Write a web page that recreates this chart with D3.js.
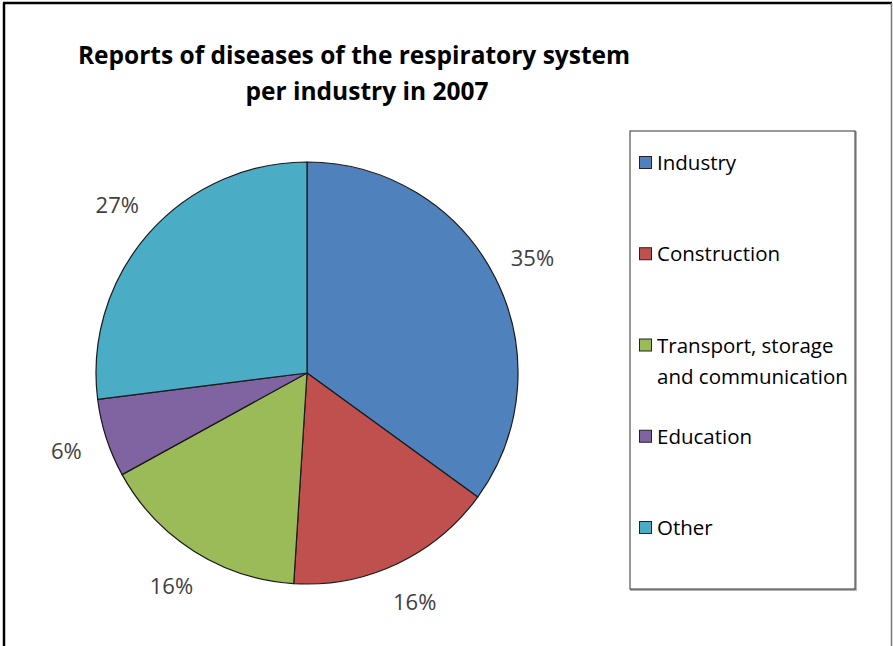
<!DOCTYPE html>
<html>
<head>
<meta charset="utf-8">
<script src="https://cdn.jsdelivr.net/npm/d3@7"></script>
<style>
    body { margin: 0; background: #fff; }
    svg { display: block; }
</style>
</head>
<body>
<div id="chart"></div>
<script>
const categories = ['Industry', 'Construction', 'Transport, storage and communication', 'Education', 'Other'];
const legendLines = [['Industry'], ['Construction'], ['Transport, storage', 'and communication'], ['Education'], ['Other']];
const values = [35, 16, 16, 6, 27];
const colors = ['#4F81BD', '#C0504D', '#9BBB59', '#8064A2', '#4BACC6'];
const titleLines = ['Reports of diseases of the respiratory system', 'per industry in 2007'];

const width = 893;
const height = 646;
const font = '"Open Sans", Lato, sans-serif';

const svg = d3.select('#chart')
    .append('svg')
    .attr('width', width)
    .attr('height', height);

// outer frame (bottom edge falls outside the picture)
svg.append('line').attr('x1', 4).attr('y1', 3).attr('x2', 4).attr('y2', height)
    .attr('stroke', '#000').attr('stroke-width', 2.5);
svg.append('line').attr('x1', 3).attr('y1', 3).attr('x2', 892).attr('y2', 3)
    .attr('stroke', '#000').attr('stroke-width', 2.5);
svg.append('line').attr('x1', 891.5).attr('y1', 3).attr('x2', 891.5).attr('y2', height)
    .attr('stroke', '#777').attr('stroke-width', 1.5);

// title
const titleX = [354, 367];
svg.append('g')
    .selectAll('text')
    .data(titleLines)
    .join('text')
    .attr('x', (d, i) => titleX[i])
    .attr('y', (d, i) => 64 + i * 36)
    .attr('text-anchor', 'middle')
    .attr('font-family', font)
    .attr('font-weight', 'bold')
    .attr('font-size', 24.5)
    .attr('fill', '#000')
    .text(d => d);

// pie
const cx = 307, cy = 373, radius = 211;
const pie = d3.pie().sort(null).value(d => d);
const arcs = pie(values);
const arc = d3.arc().innerRadius(0).outerRadius(radius);
const labelArc = d3.arc().innerRadius(253).outerRadius(253);

const pieGroup = svg.append('g').attr('transform', `translate(${cx},${cy})`);

pieGroup.selectAll('path')
    .data(arcs)
    .join('path')
    .attr('d', arc)
    .attr('fill', (d, i) => colors[i])
    .attr('stroke', '#1a1a1a')
    .attr('stroke-width', 1.2)
    .attr('stroke-linejoin', 'round');

pieGroup.selectAll('text')
    .data(arcs)
    .join('text')
    .attr('x', d => labelArc.centroid(d)[0])
    .attr('y', d => labelArc.centroid(d)[1])
    .attr('dy', '0.35em')
    .attr('text-anchor', 'middle')
    .attr('font-family', font)
    .attr('font-size', 22)
    .attr('fill', '#404040')
    .text(d => d.data + '%');

// legend
const legend = svg.append('g');
legend.append('rect')
    .attr('x', 631).attr('y', 132).attr('width', 225).attr('height', 458)
    .attr('fill', 'none').attr('stroke', '#999').attr('stroke-width', 1.5);
legend.append('rect')
    .attr('x', 630).attr('y', 131).attr('width', 225).attr('height', 458)
    .attr('fill', '#fff').attr('stroke', '#333').attr('stroke-width', 1);

const legendY = d3.scalePoint()
    .domain(categories)
    .range([163, 528]);

const items = legend.selectAll('g.item')
    .data(categories)
    .join('g')
    .attr('class', 'item')
    .attr('transform', d => `translate(0,${legendY(d)})`);

items.append('rect')
    .attr('x', 639.5).attr('y', -6.5)
    .attr('width', 12).attr('height', 12)
    .attr('fill', (d, i) => colors[i])
    .attr('stroke', '#222')
    .attr('stroke-width', 1);

items.append('text')
    .attr('font-family', font)
    .attr('font-size', 20.5)
    .attr('fill', '#000')
    .selectAll('tspan')
    .data((d, i) => legendLines[i])
    .join('tspan')
    .attr('x', 657)
    .attr('y', (d, j) => j * 31)
    .attr('dy', '0.35em')
    .text(d => d);
</script>
</body>
</html>
